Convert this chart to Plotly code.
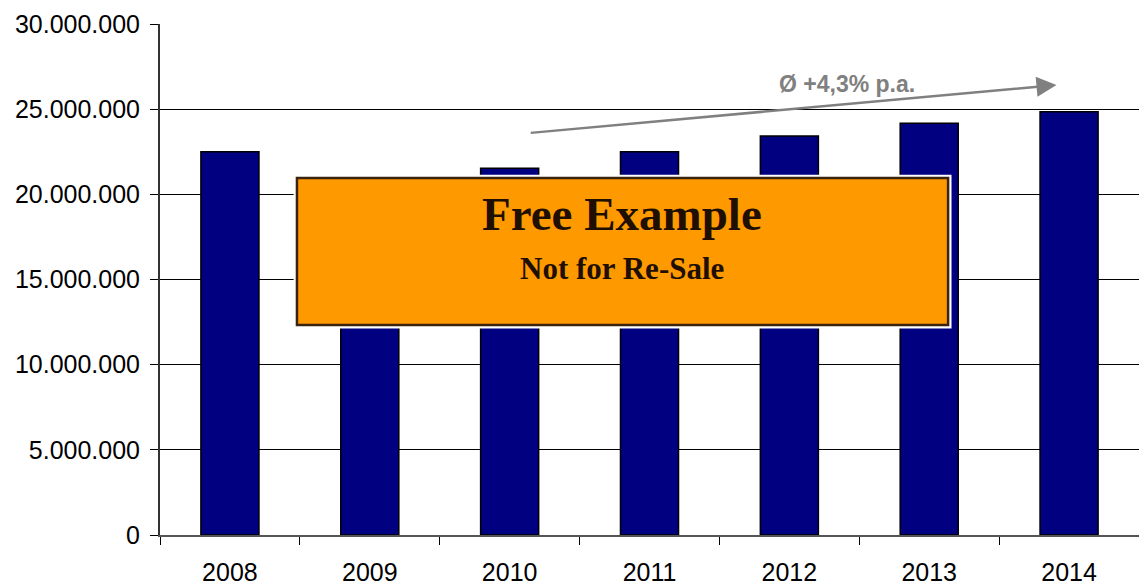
import plotly.graph_objects as go

years = ["2008", "2009", "2010", "2011", "2012", "2013", "2014"]
values = [22500000, 20600000, 21530000, 22500000, 23430000, 24170000, 24850000]
y_ticks = [0, 5000000, 10000000, 15000000, 20000000, 25000000, 30000000]
y_tick_labels = ["0", "5.000.000", "10.000.000", "15.000.000", "20.000.000", "25.000.000", "30.000.000"]
growth_label = "Ø +4,3% p.a."
arrow_start = (2.14, 23600000)
arrow_end = (5.91, 26420000)
label_pos = (4.41, 26480000)

fig = go.Figure()
fig.add_trace(go.Bar(
    x=years, y=values,
    marker=dict(color="#000080", line=dict(color="#000000", width=1.5)),
    width=0.415,
))

fig.update_layout(
    width=1139, height=585,
    margin=dict(l=160, r=0, t=24, b=50),
    plot_bgcolor="white", paper_bgcolor="white",
    showlegend=False,
    font=dict(family="Liberation Sans, Arial, sans-serif", size=25, color="#000000"),
    xaxis=dict(
        type="category",
        showline=True, linecolor="#555555", linewidth=2,
        ticks="outside", ticklen=8, tickcolor="#000000", tickwidth=1,
        tickson="boundaries",
        showgrid=False,
        tickfont=dict(size=25),
        ticklabelstandoff=14,
    ),
    yaxis=dict(
        range=[0, 30000000],
        tickvals=y_ticks, ticktext=y_tick_labels,
        showline=True, linecolor="#333333", linewidth=2,
        ticks="outside", ticklen=8, tickcolor="#000000", tickwidth=1,
        showgrid=True, gridcolor="#000000", gridwidth=1,
        zeroline=False,
        tickfont=dict(size=25),
        ticklabelstandoff=5,
    ),
)

# growth arrow
fig.add_annotation(
    x=arrow_end[0], y=arrow_end[1], ax=arrow_start[0], ay=arrow_start[1],
    xref="x", yref="y", axref="x", ayref="y",
    text="", showarrow=True, arrowhead=2, arrowsize=1.6, arrowwidth=2.5,
    arrowcolor="#808080",
)
fig.add_annotation(
    x=label_pos[0], y=label_pos[1], xref="x", yref="y",
    text="<b>" + growth_label + "</b>", showarrow=False,
    font=dict(family="Liberation Sans, Arial, sans-serif", size=23, color="#808080"),
)

# watermark box
fig.add_shape(type="rect", xref="paper", yref="paper",
              x0=0.1365, x1=0.8085, y0=0.404, y1=0.705,
              fillcolor="white", line=dict(width=0), layer="above")
fig.add_shape(type="rect", xref="paper", yref="paper",
              x0=0.1399, x1=0.805, y0=0.411, y1=0.6986,
              fillcolor="#FF9900", line=dict(color="#3a2410", width=2.5), layer="above")
fig.add_annotation(
    x=0.4724, y=0.628, xref="paper", yref="paper",
    text="<b>Free Example</b>", showarrow=False,
    font=dict(family="Liberation Serif, Times New Roman, serif", size=47, color="#1e0f00"),
)
fig.add_annotation(
    x=0.4724, y=0.5225, xref="paper", yref="paper",
    text="<b>Not for Re-Sale</b>", showarrow=False,
    font=dict(family="Liberation Serif, Times New Roman, serif", size=31, color="#1e0f00"),
)

fig.write_html("out.html")
